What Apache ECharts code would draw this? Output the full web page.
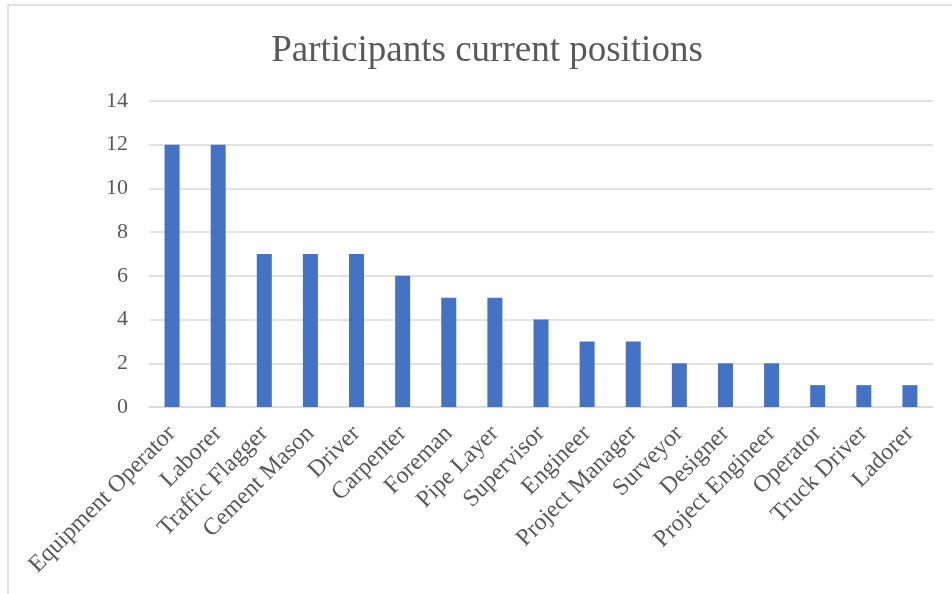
<!DOCTYPE html>
<html>
<head>
<meta charset="utf-8">
<script src="https://cdn.jsdelivr.net/npm/echarts@6/dist/echarts.min.js"></script>
<style>
  html, body { margin: 0; padding: 0; background: #fff; }
  #chart { width: 952px; height: 594px; }
</style>
</head>
<body>
<div id="chart"></div>
<script>
// Current positions held by the survey participants
const positions = [
  'Equipment Operator', 'Laborer', 'Traffic Flagger', 'Cement Mason', 'Driver',
  'Carpenter', 'Foreman', 'Pipe Layer', 'Supervisor', 'Engineer',
  'Project Manager', 'Surveyor', 'Designer', 'Project Engineer', 'Operator',
  'Truck Driver', 'Ladorer'
];
const counts = [12, 12, 7, 7, 7, 6, 5, 5, 4, 3, 3, 2, 2, 2, 1, 1, 1];

const serif = '"Liberation Serif", "Times New Roman", serif';
const chart = echarts.init(document.getElementById('chart'));

chart.setOption({
  animation: false,
  backgroundColor: '#ffffff',
  graphic: [{
    type: 'rect',
    shape: { x: 8, y: 5, width: 1000, height: 700 },
    style: { fill: 'none', stroke: '#d9d9d9', lineWidth: 1.5 },
    silent: true
  }],
  title: {
    text: 'Participants current positions',
    left: 482,
    top: 28,
    textAlign: 'center',
    textStyle: { fontFamily: serif, fontSize: 37, fontWeight: 'normal', color: '#595959' }
  },
  grid: { left: 149, right: 19, top: 101, bottom: 187, containLabel: false },
  xAxis: {
    type: 'category',
    data: positions,
    axisLine: { lineStyle: { color: '#d9d9d9', width: 1.5 } },
    axisTick: { show: false },
    axisLabel: {
      rotate: 45,
      interval: 0,
      margin: 23,
      fontFamily: serif,
      fontSize: 24,
      color: '#595959'
    }
  },
  yAxis: {
    type: 'value',
    min: 0,
    max: 14,
    interval: 2,
    axisLine: { show: false },
    axisTick: { show: false },
    splitLine: { lineStyle: { color: '#d9d9d9', width: 1.5 } },
    axisLabel: {
      margin: 21,
      fontFamily: serif,
      fontSize: 22,
      color: '#595959'
    }
  },
  series: [{
    type: 'bar',
    data: counts,
    barWidth: 15,
    itemStyle: { color: '#4472c4' }
  }]
});
</script>
</body>
</html>
